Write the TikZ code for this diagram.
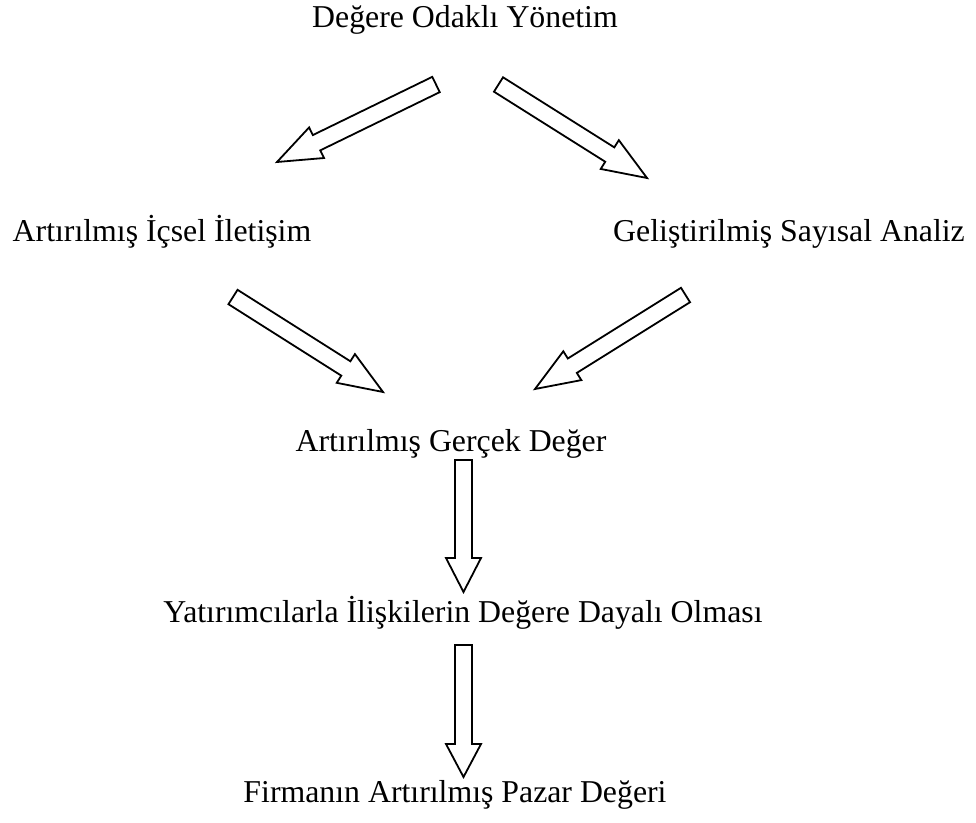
\documentclass[tikz,border=0pt]{standalone}
\usepackage{fontspec}
\setmainfont{Liberation Serif}
\usetikzlibrary{calc}

% hollow block arrow from a tail coordinate to a tip coordinate
% #1 tail, #2 tip, #3 shaft half width, #4 head half width, #5 head length
\newcommand\hollowarrow[5]{%
  \coordinate (hb) at ($(#2)!#5!(#1)$);
  \draw[blockarrow]
    ($(#1)!#3!90:(#2)$) -- ($(hb)!#3!-90:(#1)$) -- ($(hb)!#4!-90:(#1)$) --
    (#2) --
    ($(hb)!#4!90:(#1)$) -- ($(hb)!#3!90:(#1)$) -- ($(#1)!#3!-90:(#2)$) -- cycle;
}

\begin{document}
\begin{tikzpicture}[x=1pt,y=-1pt,
  label/.style={anchor=base,inner sep=0pt,font=\fontsize{31.8pt}{36pt}\selectfont},
  blockarrow/.style={draw=black,fill=white,line width=1.8pt,line join=miter}]
\useasboundingbox (0,0) rectangle (976,822);

\node[label] (top) at (465,27)  {Değere Odaklı Yönetim};
\node[label] (ics) at (162,241) {Artırılmış İçsel İletişim};
\node[label] (say) at (789,241) {Geliştirilmiş Sayısal Analiz};
\node[label] (ger) at (451,451) {Artırılmış Gerçek Değer};
\node[label] (yat) at (463,622) {Yatırımcılarla İlişkilerin Değere Dayalı Olması};
\node[label] (fir) at (455,802) {Firmanın Artırılmış Pazar Değeri};

% arrow ends
\coordinate (t1) at (436,84.5);  \coordinate (h1) at (277,162);
\coordinate (t2) at (498.5,84.5);\coordinate (h2) at (647,178);
\coordinate (t3) at (233,297);   \coordinate (h3) at (383,392);
\coordinate (t4) at (685.5,295); \coordinate (h4) at (535,389);
\coordinate (t5) at (463.5,460); \coordinate (h5) at (463.5,592);
\coordinate (t6) at (463.5,645); \coordinate (h6) at (463.5,777);

\hollowarrow{t1}{h1}{8.5pt}{17pt}{44pt}
\hollowarrow{t2}{h2}{8.5pt}{17pt}{44pt}
\hollowarrow{t3}{h3}{8.5pt}{17pt}{44pt}
\hollowarrow{t4}{h4}{8.5pt}{17pt}{44pt}
\hollowarrow{t5}{h5}{8.5pt}{17.5pt}{34pt}
\hollowarrow{t6}{h6}{8.5pt}{17.5pt}{33pt}
\end{tikzpicture}
\end{document}
